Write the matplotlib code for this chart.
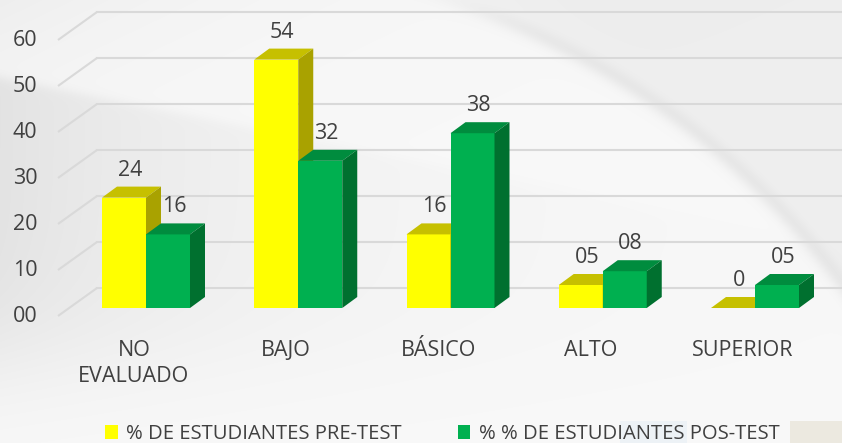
import numpy as np
import matplotlib.pyplot as plt
from matplotlib.patches import Polygon, Patch

categorias = ['NO\nEVALUADO', 'BAJO', 'BÁSICO', 'ALTO', 'SUPERIOR']
pre_test = [24, 54, 16, 5, 0]
pos_test = [16, 32, 38, 8, 5]
pre_labels = ['24', '54', '16', '05', '0']
pos_labels = ['16', '32', '38', '08', '05']
y_ticks = [0, 10, 20, 30, 40, 50, 60]
y_tick_labels = ['00', '10', '20', '30', '40', '50', '60']
series = ['% DE ESTUDIANTES PRE-TEST', '% % DE ESTUDIANTES POS-TEST']

# colors (front, top, side)
amarillo = ('#FFFF00', '#C6C000', '#A9A200')
verde = ('#00B050', '#008C3E', '#00702F')
texto = '#404040'
grid_color = '#D9D9D9'

plt.rcParams['font.family'] = ['Open Sans', 'DejaVu Sans']
fs = 15.5

W, H = 842, 443
fig = plt.figure(figsize=(W / 100, H / 100), dpi=100)
ax = fig.add_axes([0, 0, 1, 1])

# pixel scale: one category step / one value unit
sx, sy = 152.25, 4.6
cx0, cy0 = 146, 308
xmin, xmax = -cx0 / sx, (W - cx0) / sx
ymin, ymax = -(H - cy0) / sy, cy0 / sy
ax.set_xlim(xmin, xmax)
ax.set_ylim(ymin, ymax)
ax.axis('off')


def sig(t):
    return 1 / (1 + np.exp(-t))


# background: soft grey with light swooshes
yy, xx = np.mgrid[0:H, 0:W].astype(float)
bg = np.full((H, W), 0.975)
# grey wedge on the left
edge = 77 + 0.2 * xx
bg -= 0.085 * np.exp(-xx / 260) * sig((yy - edge) / 3) * sig((360 - yy) / 35)
bg -= 0.04 * np.exp(-xx / 250) * sig((edge - yy) / 3) * np.exp(-yy / 120)
# large arc on the right
r = np.sqrt((xx - 200) ** 2 + (yy - 760) ** 2)
bg -= 0.04 * sig((r - 800) / 6) * sig((xx - 450) / 40)
bg -= 0.045 * np.exp(-((r - 800) ** 2) / (2 * 6 ** 2)) * sig((xx - 480) / 30)
bg = np.clip(bg, 0, 1)
ax.imshow(np.dstack([bg, bg, bg]), extent=[xmin, xmax, ymin, ymax], aspect='auto',
          zorder=0, origin='upper')
ax.add_patch(plt.Rectangle(((790 - cx0) / sx, ymin), (W - 790) / sx, 22 / sy,
                           color='#ECE9E0', zorder=0.5, lw=0))
ax.add_patch(plt.Rectangle(((620 - cx0) / sx, ymin), 67 / sx, 22 / sy,
                           color='#E6EEF5', alpha=0.6, zorder=0.5, lw=0))

# 3D offsets in data units
bdx, bdy = 15 / sx, 11 / sy     # bar depth
wdx, wdy = 28 / sx, 20 / sy     # back wall
fdx, fdy = -11 / sx, -8 / sy    # front of floor
xl = (69 - cx0) / sx
w = 44 / sx

for v, lab in zip(y_ticks, y_tick_labels):
    ax.plot([xl + fdx, xl + wdx], [v + fdy, v + wdy], color=grid_color, lw=1.5, zorder=1,
            solid_capstyle='butt')
    ax.plot([xl + wdx, xmax], [v + wdy, v + wdy], color=grid_color, lw=1.5, zorder=1)
    ax.text((25 - cx0) / sx, v + fdy, lab, ha='center', va='center', fontsize=fs, color=texto)


def bar3d(x_left, v, cols, z):
    xr = x_left + w
    ax.bar(x_left, v, w, align='edge', color=cols[0], lw=0, zorder=z)
    ax.add_patch(Polygon([(x_left, v), (xr, v), (xr + bdx, v + bdy), (x_left + bdx, v + bdy)],
                         closed=True, color=cols[1], lw=0, zorder=z))
    ax.add_patch(Polygon([(xr, 0), (xr, v), (xr + bdx, v + bdy), (xr + bdx, bdy)],
                         closed=True, color=cols[2], lw=0, zorder=z))


for i in range(len(categorias)):
    bar3d(i - w, pre_test[i], amarillo, 2 + i * 0.1)
    bar3d(i, pos_test[i], verde, 2.05 + i * 0.1)
    ax.text(i - w / 2 + bdx / 2 - 0.01, pre_test[i] + 6, pre_labels[i], ha='center',
            va='center', fontsize=fs, color=texto, zorder=5)
    ax.text(i + w / 2 + bdx / 2 - 0.01, pos_test[i] + 6, pos_labels[i], ha='center',
            va='center', fontsize=fs, color=texto, zorder=5)
    ax.text(i - 0.08, -6.9, categorias[i], ha='center', va='top', fontsize=fs, color=texto,
            linespacing=1.33)

handles = [Patch(facecolor=amarillo[0]), Patch(facecolor=verde[0])]
ax.legend(handles, series, loc='center left', bbox_to_anchor=(97 / W, 1 - 434 / H),
          ncol=2, frameon=False, fontsize=14.6, labelcolor=texto, handlelength=0.62,
          handleheight=0.7, handletextpad=0.42, columnspacing=2.75, borderaxespad=0)

fig.savefig('out.png', dpi=100)
